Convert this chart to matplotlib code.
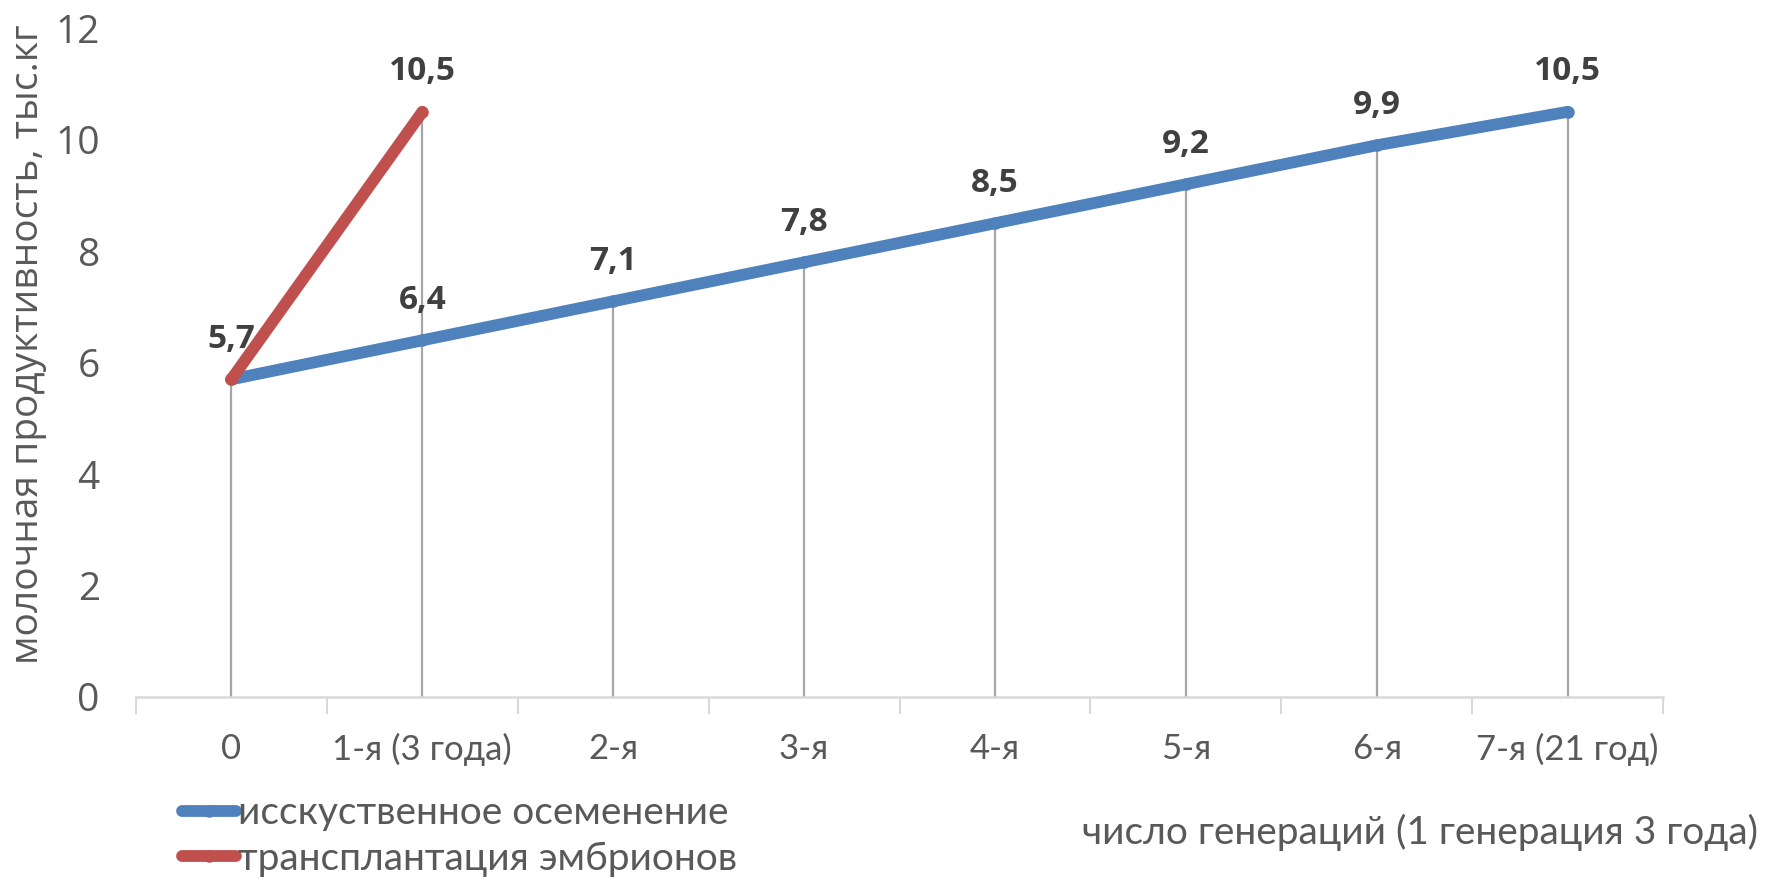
import matplotlib
matplotlib.use("Agg")
import matplotlib.pyplot as plt
from matplotlib.lines import Line2D

categories = ["0", "1-я (3 года)", "2-я", "3-я", "4-я", "5-я", "6-я", "7-я (21 год)"]
ai_values = [5.7, 6.4, 7.1, 7.8, 8.5, 9.2, 9.9, 10.5]
et_values = [5.7, 10.5]
ai_name = "исскуственное осеменение"
et_name = "трансплантация эмбрионов"
y_label = "молочная продуктивность, тыс.кг"
x_label = "число генераций (1 генерация 3 года)"
y_ticks = [0, 2, 4, 6, 8, 10, 12]

blue = "#4f81bd"
red = "#c0504d"
txt = "#595959"
narrow = ["Lato", "DejaVu Sans"]
wide = ["Open Sans", "DejaVu Sans"]

fig = plt.figure(figsize=(17.66, 8.83), dpi=100)
ax = fig.add_axes([0.077, 0.2107, 0.8647, 0.7573])

x_ai = list(range(len(ai_values)))
x_et = list(range(len(et_values)))

# drop lines
for xi, yi in zip(x_ai, ai_values):
    ymax = yi
    if xi < len(et_values):
        ymax = max(yi, et_values[xi])
    ax.plot([xi, xi], [0, ymax], color="#a6a6a6", lw=1.6, zorder=1)

ax.plot(x_ai, ai_values, color=blue, lw=8.5, marker="o", ms=8,
        solid_capstyle="round", zorder=3)
ax.plot(x_et, et_values, color=red, lw=8.5, marker="o", ms=8,
        solid_capstyle="round", zorder=4)

for xi, yi in zip(x_ai, ai_values):
    ax.annotate(f"{yi:.1f}".replace(".", ","), (xi, yi), xytext=(0, 29),
                textcoords="offset points", ha="center", va="center",
                fontsize=24, fontweight="bold", color="#404040",
                family=wide, zorder=5)
for xi, yi in zip(x_et[1:], et_values[1:]):
    ax.annotate(f"{yi:.1f}".replace(".", ","), (xi, yi), xytext=(0, 29),
                textcoords="offset points", ha="center", va="center",
                fontsize=24, fontweight="bold", color="#404040",
                family=wide, zorder=5)

ax.set_xlim(-0.5, len(categories) - 0.5)
ax.set_ylim(0, 12)
ax.set_yticks(y_ticks)
ax.set_yticklabels([str(t) for t in y_ticks], fontsize=28, color=txt, family=wide)
ax.tick_params(axis="y", length=0, pad=26)

ax.set_xticks(x_ai)
ax.set_xticklabels(categories, fontsize=25, color=txt, family=narrow)
ax.tick_params(axis="x", length=0, pad=26)
ax.set_xticks([i - 0.5 for i in range(len(categories) + 1)], minor=True)
ax.tick_params(axis="x", which="minor", length=12, width=1.5, color="#d9d9d9", direction="out")

for s in ["top", "right", "left"]:
    ax.spines[s].set_visible(False)
ax.spines["bottom"].set_color("#d9d9d9")
ax.spines["bottom"].set_linewidth(1.8)

ax.set_ylabel(y_label, fontsize=28, color=txt, family=wide)
ax.yaxis.set_label_coords(-0.058, 0.528)

fig.text(0.9955, 0.057, x_label, ha="right", va="center", fontsize=28,
         color=txt, family=narrow)

handles = [Line2D([0], [0], color=blue, lw=8.5, marker="o", ms=8, solid_capstyle="round"),
           Line2D([0], [0], color=red, lw=8.5, marker="o", ms=8, solid_capstyle="round")]
leg = fig.legend(handles, [ai_name, et_name], loc="center left",
                 bbox_to_anchor=(0.083, 0.053), frameon=False,
                 prop={"family": narrow, "size": 28}, labelcolor=txt,
                 handlelength=1.4, handletextpad=0.05, labelspacing=0.25)

fig.savefig("out.png", dpi=100, facecolor="white")
